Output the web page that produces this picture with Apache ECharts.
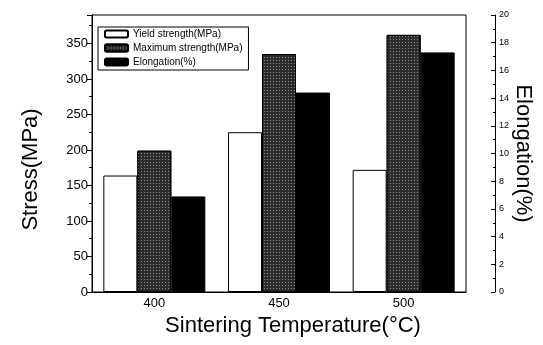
<!DOCTYPE html>
<html>
<head>
<meta charset="utf-8">
<script src="https://cdn.jsdelivr.net/npm/echarts@6/dist/echarts.min.js"></script>
<style>html,body{margin:0;padding:0;background:#fff;}#c{width:543px;height:345px;}</style>
</head>
<body>
<div id="c"></div>
<script>
var categories = ['400', '450', '500'];
var yieldStrength = [164, 225, 172];
var maxStrength = [199, 335, 362];
var elongation = [6.9, 14.4, 17.3];
var seriesNames = ['Yield strength(MPa)', 'Maximum strength(MPa)', 'Elongation(%)'];

var FONT = "Arial, 'Liberation Sans', sans-serif";
var chart = echarts.init(document.getElementById('c'), null, {renderer: 'canvas'});
chart.setOption({
  backgroundColor: '#fff',
  animation: false,
  textStyle: {fontFamily: FONT, color: '#000'},
  grid: {left: 92, right: 77, top: 15, bottom: 53, outerBoundsMode: 'none', containLabel: false,
    show: true, borderColor: '#000', borderWidth: 1, backgroundColor: 'transparent'},
  legend: {
    left: 98, top: 27, orient: 'vertical',
    itemWidth: 23, itemHeight: 7, itemGap: 4,
    padding: [2, 6, 3, 6],
    borderColor: '#000', borderWidth: 1,
    textStyle: {fontFamily: FONT, fontSize: 10, color: '#000'},
    data: seriesNames
  },
  xAxis: {
    type: 'category', data: categories,
    axisLine: {lineStyle: {color: '#000', width: 1}},
    axisTick: {show: false},
    axisLabel: {fontFamily: FONT, fontSize: 13, color: '#000', margin: 5},
    name: 'Sintering Temperature(°C)', nameLocation: 'middle', nameGap: 20,
    nameTextStyle: {fontFamily: FONT, fontSize: 22, color: '#000', padding: [0, 0, 0, 28]}
  },
  yAxis: [{
    type: 'value', min: 0, max: 390, interval: 50,
    axisLine: {show: true, lineStyle: {color: '#000'}},
    axisTick: {show: true, length: 5, lineStyle: {color: '#000'}},
    minorTick: {show: true, splitNumber: 2, length: 3, lineStyle: {color: '#000'}},
    splitLine: {show: false},
    axisLabel: {fontFamily: FONT, fontSize: 13, color: '#000', margin: 4,
      formatter: function (v) { return v % 50 === 0 ? String(v) : ''; }},
    name: 'Stress(MPa)', nameLocation: 'middle', nameGap: 50,
    nameTextStyle: {fontFamily: FONT, fontSize: 22, color: '#000', padding: [0, 32, 0, 0]}
  }, {
    type: 'value', position: 'right', offset: 29, min: 0, max: 20, interval: 2,
    axisLine: {show: true, lineStyle: {color: '#000'}},
    axisTick: {show: true, inside: true, length: 4, lineStyle: {color: '#000'}},
    minorTick: {show: true, splitNumber: 2, length: 2, lineStyle: {color: '#000'}},
    splitLine: {show: false},
    axisLabel: {fontFamily: FONT, fontSize: 9, color: '#000', margin: 4},
    name: 'Elongation(%)', nameLocation: 'middle', nameGap: 17, nameRotate: -90,
    nameMoveOverlap: false,
    nameTextStyle: {fontFamily: FONT, fontSize: 22, color: '#000'}
  }],
  series: [{
    name: seriesNames[0], type: 'bar', data: yieldStrength, yAxisIndex: 0,
    barWidth: 34, barGap: '0%',
    itemStyle: {color: '#fff', borderColor: '#000', borderWidth: 1}
  }, {
    name: seriesNames[1], type: 'bar', data: maxStrength, yAxisIndex: 0,
    barWidth: 34, barGap: '0%',
    itemStyle: {color: '#2c2c2c', borderColor: '#000', borderWidth: 1,
      decal: {symbol: 'rect', symbolSize: 1, color: 'rgba(255,255,255,0.45)', dashArrayX: [1, 2], dashArrayY: [1, 2], rotation: 0}}
  }, {
    name: seriesNames[2], type: 'bar', data: elongation, yAxisIndex: 1,
    barWidth: 34, barGap: '0%',
    itemStyle: {color: '#000', borderColor: '#000', borderWidth: 1}
  }]
});
</script>
</body>
</html>
